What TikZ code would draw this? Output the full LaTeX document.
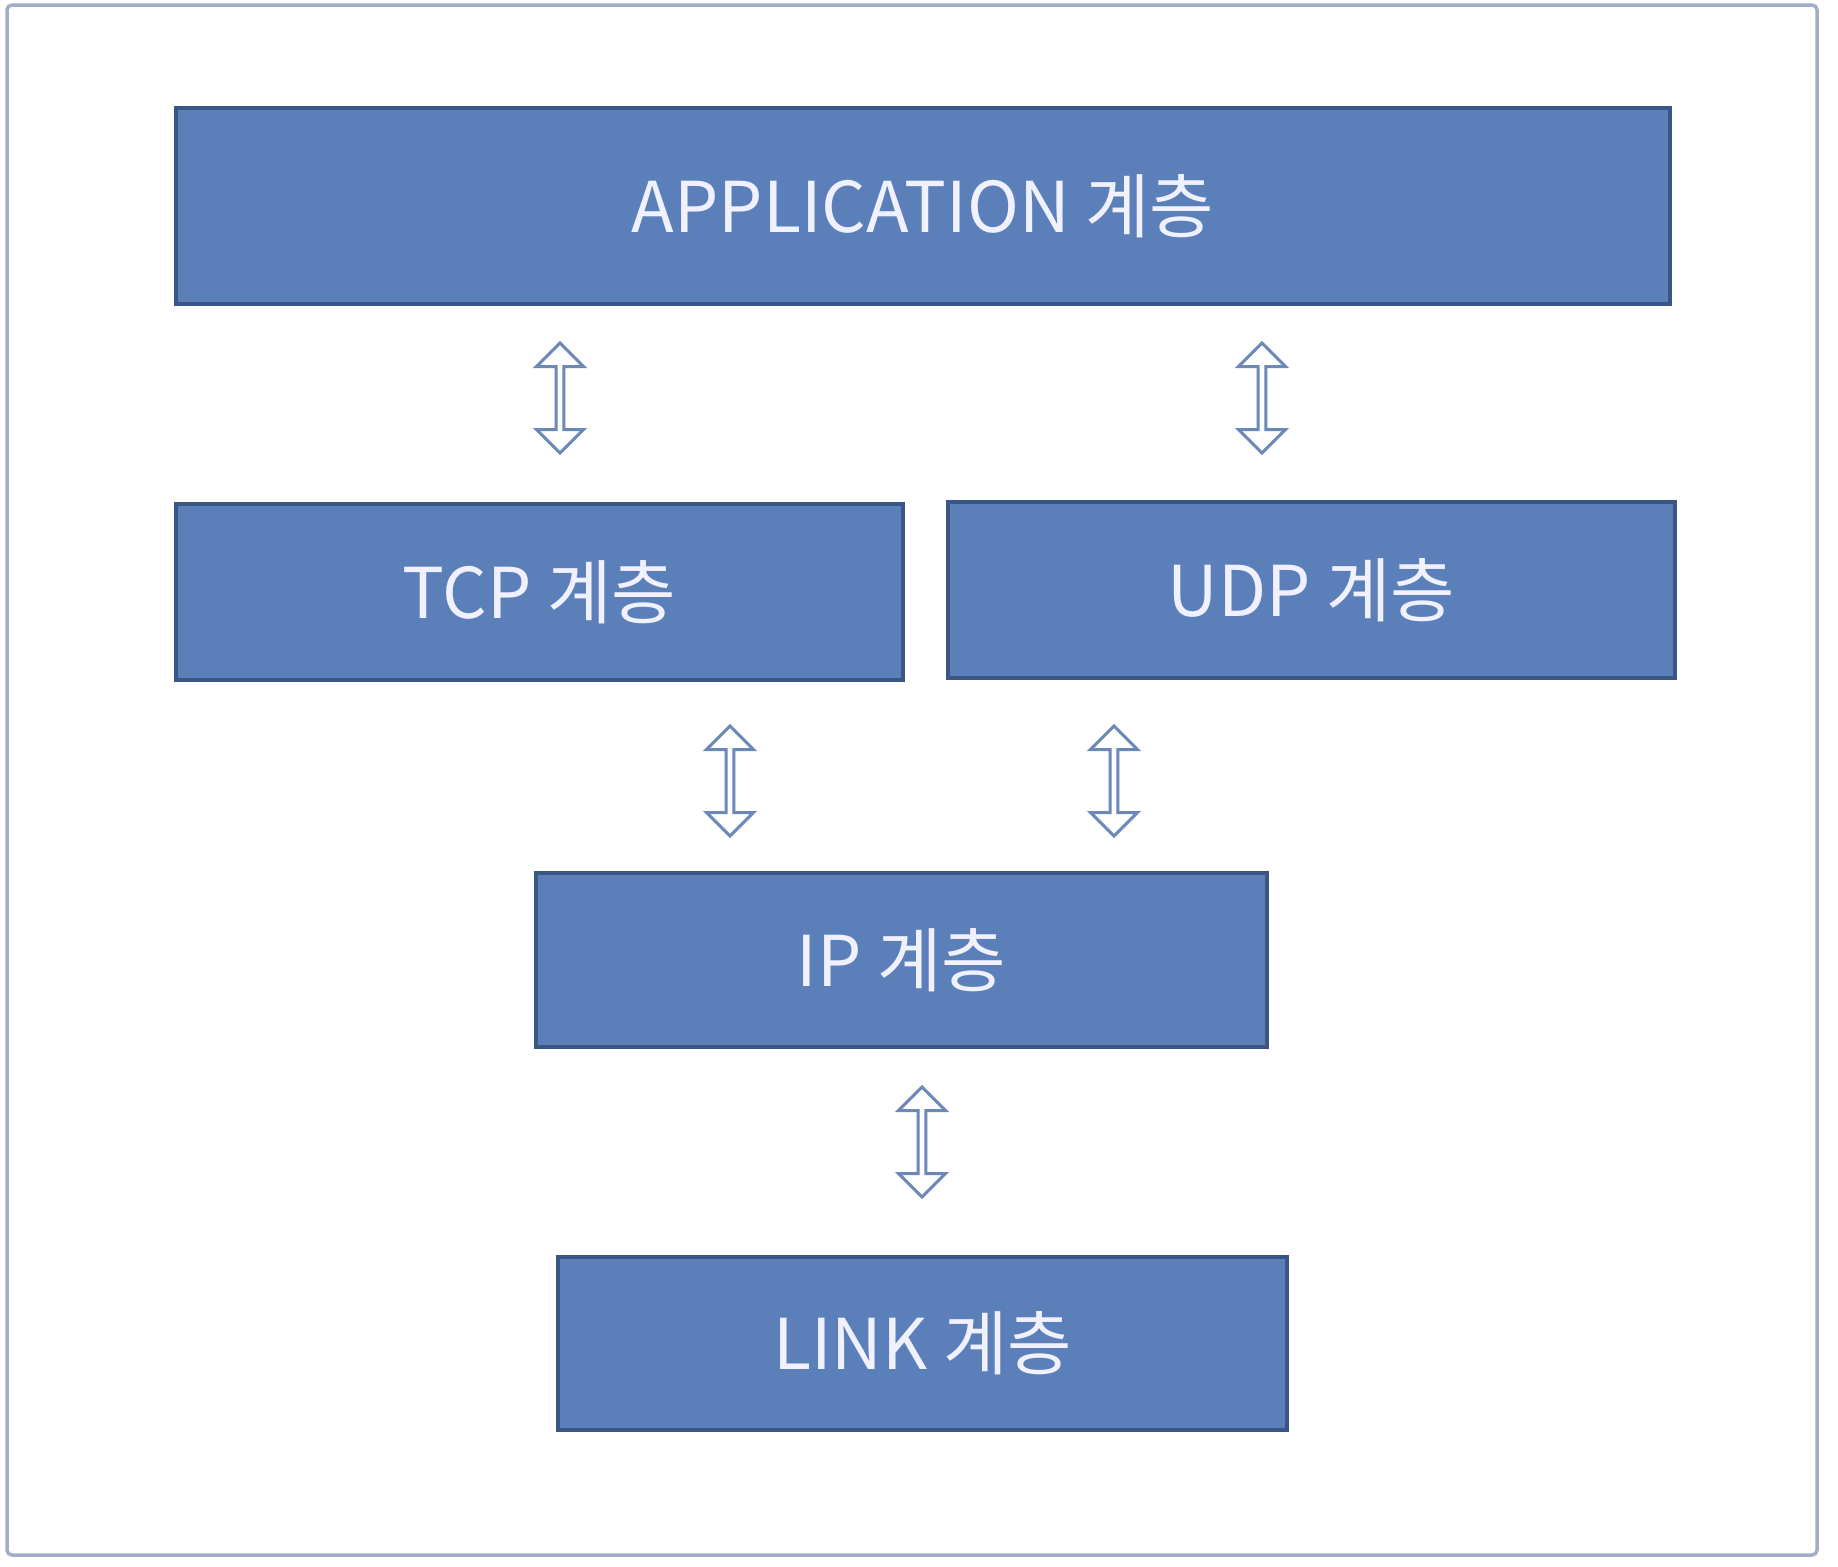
\documentclass[tikz,border=0pt]{standalone}
\usepackage{fontspec}
\setmainfont{Noto Sans CJK KR}
\usetikzlibrary{shapes.arrows}

\definecolor{layerfill}{RGB}{91,128,185}
\definecolor{layerline}{RGB}{58,86,132}
\definecolor{arrowline}{RGB}{108,136,182}
\definecolor{framegray}{RGB}{160,174,200}

\tikzset{
  layer/.style={draw=layerline, line width=1.6pt, fill=layerfill, text=white!94!blue,
    inner sep=0pt, font=\fontsize{28}{34}\selectfont},
  updown/.style={double arrow, shape border rotate=90, draw=arrowline, fill=white,
    line width=1.2pt, inner sep=0pt, minimum height=44pt, minimum width=18.8pt,
    double arrow head extend=3.0pt}
}

\begin{document}
\begin{tikzpicture}[x=0.4pt, y=-0.4pt]
        \useasboundingbox (0,0) rectangle (1838,1566);
        \draw[framegray, line width=1.4pt, rounded corners=2pt] (7,5) rectangle (1817,1555);

        \node[layer, minimum width=597.6pt, minimum height=78.4pt] (app) at (923,206) {APPLICATION 계층};
        \node[layer, minimum width=290.8pt, minimum height=70.4pt] (tcp) at (539.5,592) {TCP 계층};
        \node[layer, minimum width=290.8pt, minimum height=70.4pt] (udp) at (1311.5,590) {UDP 계층};
        \node[layer, minimum width=292.4pt, minimum height=69.6pt] (ip) at (901.5,960) {IP 계층};
        \node[layer, minimum width=291.6pt, minimum height=69.2pt] (link) at (922.5,1343.5) {LINK 계층};

        \node[updown] (apptcp) at (560,398) {};
        \node[updown] (appudp) at (1262,398) {};
        \node[updown] (tcpip) at (730,781) {};
        \node[updown] (udpip) at (1114,781) {};
        \node[updown] (iplink) at (922,1142) {};
    \end{tikzpicture}
\end{document}
